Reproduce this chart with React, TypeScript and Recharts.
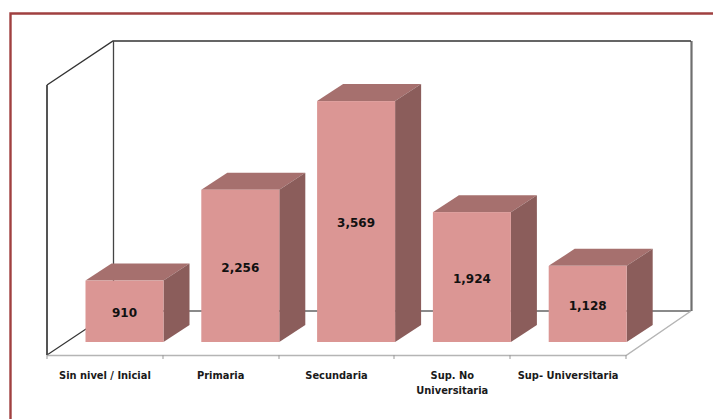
import React from "react";
import { BarChart, Bar, XAxis, YAxis, LabelList } from "recharts";

const categories = ["Sin nivel / Inicial", "Primaria", "Secundaria", "Sup. No Universitaria", "Sup- Universitaria"];
const values = [910, 2256, 3569, 1924, 1128];
const tickLines: Record<string, string[]> = {
  "Sup. No Universitaria": ["Sup. No", "Universitaria"],
};
const data = categories.map((name, i) => ({ name, value: values[i] }));

const FONT = "'DejaVu Sans', sans-serif";
const DX = 26;
const DY = -17;

function Bar3D(props: any) {
  const { x, y, width, height } = props;
  const r = x + width;
  const b = y + height;
  return (
    <g>
      <polygon points={`${x},${y} ${x + DX},${y + DY} ${r + DX},${y + DY} ${r},${y}`} fill="#A6706E" />
      <polygon points={`${r},${y} ${r + DX},${y + DY} ${r + DX},${b + DY} ${r},${b}`} fill="#8B5D5B" />
      <rect x={x} y={y} width={width} height={height} fill="#DB9694" />
    </g>
  );
}

function Tick(props: any) {
  const { x, payload } = props;
  const lines = tickLines[payload.value] ?? [payload.value];
  return (
    <text x={x - 19.5} y={379} textAnchor="middle" fontFamily={FONT} fontWeight={700} fontSize={9.9} fill="#1a1a1a">
      {lines.map((l: string, i: number) => (
        <tspan key={i} x={x - 19.5} dy={i === 0 ? 0 : 14.5}>{l}</tspan>
      ))}
    </text>
  );
}

function Frame() {
  const ticks = [47, 163, 279, 394, 510, 626];
  return (
    <g fill="none">
      <path d="M10.5 419V13.5H713" stroke="#A04040" strokeWidth={2.4} />
      <path d="M113 311H691" stroke="#8a8a8a" strokeWidth={2} />
      <path d="M691.5 41V311" stroke="#6f6f6f" strokeWidth={2.2} />
      <path d="M47 85L113 41H691" stroke="#333" strokeWidth={1.4} />
      <path d="M113.5 41V311" stroke="#444" strokeWidth={1.3} />
      <path d="M47 85V355" stroke="#555" strokeWidth={2} />
      <path d="M47 355L113 311" stroke="#333" strokeWidth={1.2} />
      <path d="M47 355.5H626L691 311" stroke="#b5b5b5" strokeWidth={1.5} />
      {ticks.map((t) => (
        <path key={t} d={`M${t} 355V359`} stroke="#999" strokeWidth={1} />
      ))}
    </g>
  );
}

export default function App() {
  return (
    <div style={{ position: "absolute", left: 0, top: 0, width: 713, height: 419, background: "#fff", overflow: "hidden" }}>
      <BarChart
        width={713}
        height={419}
        data={data}
        margin={{ top: 72, right: 67.5, bottom: 47, left: 66.5 }}
        barSize={78}
      >
        <Frame />
        <XAxis dataKey="name" axisLine={false} tickLine={false} height={30} tick={<Tick />} interval={0} />
        <YAxis hide domain={[0, 4000]} />
        <Bar dataKey="value" shape={<Bar3D />} isAnimationActive={false}>
          <LabelList
            dataKey="value"
            position="center"
            offset={0}
            formatter={(v: any) => Number(v).toLocaleString("en-US")}
            dy={1.5}
            style={{ fontFamily: FONT, fontWeight: 700, fontSize: 12, fill: "#111" }}
          />
        </Bar>
      </BarChart>
    </div>
  );
}
